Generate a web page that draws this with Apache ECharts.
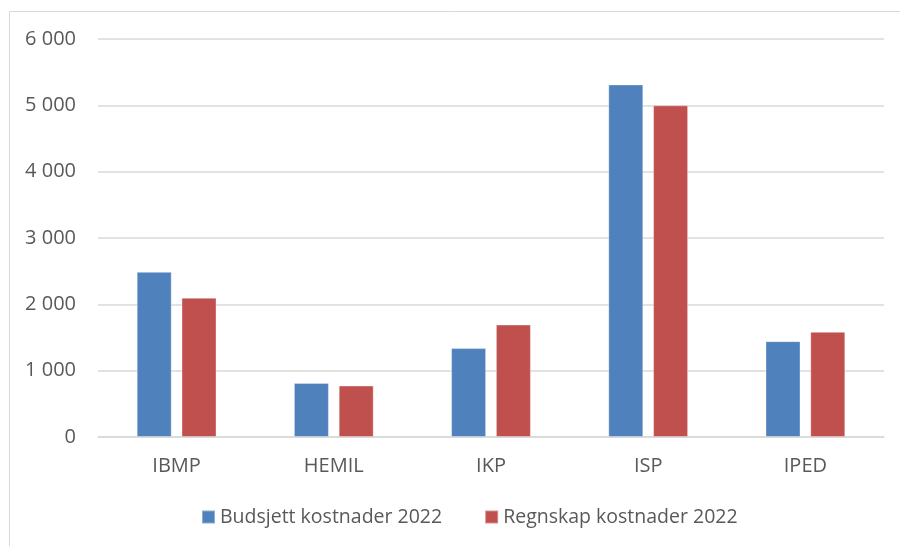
<!DOCTYPE html>
<html lang="no">
<head>
    <meta charset="UTF-8">
    <script src="https://cdn.jsdelivr.net/npm/echarts@6/dist/echarts.min.js"></script>
    <title>Kostnader 2022</title>
    <style>
        html, body { margin: 0; padding: 0; background: #fff; }
        #main { width: 900px; height: 546px; }
    </style>
</head>
<body>
    <div id="main"></div>
    <script>
        var categories = ['IBMP', 'HEMIL', 'IKP', 'ISP', 'IPED'];
        var budsjett = [2490, 815, 1340, 5315, 1445];
        var regnskap = [2100, 775, 1695, 5000, 1585];
        var seriesNames = ['Budsjett kostnader 2022', 'Regnskap kostnader 2022'];

        var textColor = '#595959';
        var font = '"Open Sans", sans-serif';

        function fmt(v) {
            return String(v).replace(/\B(?=(\d{3})+(?!\d))/g, ' ');
        }

        var chart = echarts.init(document.getElementById('main'));
        chart.setOption({
            animation: false,
            color: ['#4F81BD', '#C0504D'],
            graphic: [{
                type: 'rect',
                shape: { x: 9.5, y: 11.5, width: 900, height: 600 },
                style: { fill: 'none', stroke: '#d9d9d9', lineWidth: 1 },
                silent: true
            }],
            grid: { left: 98, right: 16, top: 39, bottom: 109 },
            legend: {
                data: seriesNames,
                top: 502,
                left: 196,
                itemWidth: 13,
                itemHeight: 13,
                itemGap: 42,
                icon: 'rect',
                textStyle: { color: textColor, fontSize: 19.5, fontFamily: font }
            },
            xAxis: {
                type: 'category',
                data: categories,
                axisLine: { lineStyle: { color: '#d9d9d9', width: 1.5 } },
                axisTick: { show: false },
                axisLabel: { color: textColor, fontSize: 20, fontFamily: font, margin: 19 }
            },
            yAxis: {
                type: 'value',
                min: 0,
                max: 6000,
                interval: 1000,
                axisLine: { show: false },
                axisTick: { show: false },
                splitLine: { lineStyle: { color: '#d9d9d9', width: 1.5 } },
                axisLabel: { color: textColor, fontSize: 20, fontFamily: font, margin: 22, formatter: fmt }
            },
            series: [
                {
                    name: seriesNames[0], type: 'bar', data: budsjett,
                    barWidth: 35, barGap: '28%',
                    itemStyle: { borderColor: 'rgba(255,255,255,0.35)', borderWidth: 1 }
                },
                {
                    name: seriesNames[1], type: 'bar', data: regnskap,
                    barWidth: 35, barGap: '28%',
                    itemStyle: { borderColor: 'rgba(255,255,255,0.35)', borderWidth: 1 }
                }
            ]
        });
    </script>
</body>
</html>
